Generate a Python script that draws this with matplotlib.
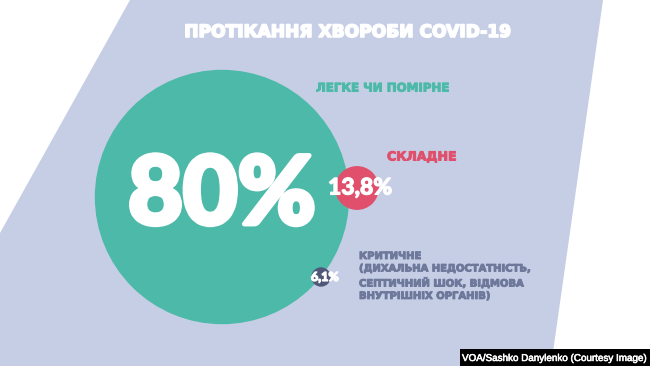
import numpy as np
import matplotlib

matplotlib.use("Agg")
import matplotlib.pyplot as plt
import matplotlib.patheffects as pe
from matplotlib.patches import Circle, Polygon, Rectangle

# data
shares = [80, 13.8, 6.1]
share_labels = ["80%", "13,8%", "6,1%"]
categories = [
    "ЛЕГКЕ ЧИ ПОМІРНЕ",
    "СКЛАДНЕ",
    "КРИТИЧНЕ\n(ДИХАЛЬНА НЕДОСТАТНІСТЬ,\nСЕПТИЧНИЙ ШОК, ВІДМОВА\nВНУТРІШНІХ ОРГАНІВ)",
]
title = "ПРОТІКАННЯ ХВОРОБИ COVID-19"
credit = "VOA/Sashko Danylenko (Courtesy Image)"

colors = ["#4dbaa9", "#e0506d", "#4f5878"]
label_colors = ["#4dbaa9", "#e0506d", "#6e789a"]
centers = [(222, 197), (357, 188), (321, 277)]
px_per_unit = 1.59  # radius grows linearly with the share
num_sizes = [68, 16.5, 9]
num_offsets = [(0, 0), (3, 0), (4, 0)]
label_pos = [(316, 88), (387, 157), (359, 251)]
label_sizes = [8.5, 9, 7.2]


def heavy(c, w=1.0):
    return [pe.withStroke(linewidth=w, foreground=c)]


fig = plt.figure(figsize=(6.5, 3.66), dpi=100)
ax = fig.add_axes([0, 0, 1, 1])
ax.set_xlim(0, 650)
ax.set_ylim(366, 0)
ax.axis("off")

# lavender backdrop
ax.add_patch(Polygon([(130, 0), (603, 0), (551, 366), (0, 366), (0, 233)],
                     closed=True, facecolor="#c6cee6", edgecolor="none", zorder=0))

ax.text(349, 32, title, color="white", fontsize=12.3, fontweight="bold",
        family=["DejaVu Sans"], ha="center", va="center",
        path_effects=heavy("white", 1.2))

for i, v in enumerate(shares):
    ax.add_patch(Circle(centers[i], v * px_per_unit, facecolor=colors[i],
                        edgecolor="none", zorder=1))
    ax.text(centers[i][0] + num_offsets[i][0], centers[i][1] + num_offsets[i][1],
            share_labels[i], color="white", fontsize=num_sizes[i], fontweight="black",
            family=["Lato", "DejaVu Sans"], ha="center", va="center", zorder=3,
            path_effects=heavy("white", 3.5 if i == 0 else 0.8))
    ax.text(label_pos[i][0], label_pos[i][1], categories[i], color=label_colors[i],
            fontsize=label_sizes[i], fontweight="bold", family=["DejaVu Sans"],
            ha="left", va="center" if i < 2 else "top", linespacing=1.3, zorder=3,
            path_effects=heavy(label_colors[i], 0.7))

ax.add_patch(Rectangle((460, 349), 190, 17, facecolor="black", edgecolor="none", zorder=4))
ax.text(647, 358, credit, color="white", fontsize=7.1,
        family=["Liberation Sans", "DejaVu Sans"], ha="right", va="center", zorder=5,
        path_effects=heavy("white", 0.4))

fig.savefig("out.png", dpi=100)
